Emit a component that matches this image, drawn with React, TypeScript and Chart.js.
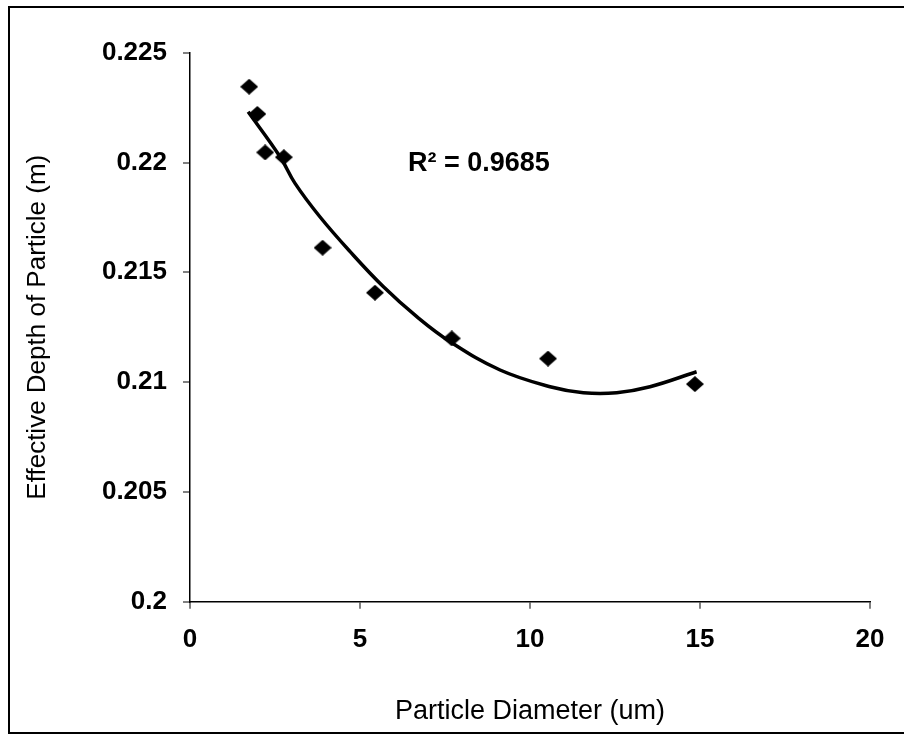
import React, { useEffect, useRef } from "react";
import { Chart, registerables } from "chart.js";

Chart.register(...registerables);

// ---- data ----
const DIAMETER_UM = [1.74, 1.98, 2.21, 2.76, 3.9, 5.44, 7.7, 10.53, 14.85];
const EFFECTIVE_DEPTH_M = [0.22345, 0.22221, 0.22046, 0.22024, 0.21612, 0.21407, 0.21199, 0.21107, 0.20991];

// polynomial trend line as drawn in the reference
const TREND_X = [1.71, 2.65, 3.09, 3.82, 4.71, 5.69, 6.67, 7.65, 9.12, 10.59, 11.57, 12.55, 13.53, 14.9];
const TREND_Y = [0.22231, 0.22026, 0.21905, 0.21753, 0.21594, 0.21434, 0.21298, 0.21184, 0.21055, 0.20979, 0.20952, 0.20952, 0.20979, 0.21047];

const X_TICKS = [0, 5, 10, 15, 20];
const X_TICK_LABELS = ["0", "5", "10", "15", "20"];
const Y_TICKS = [0.2, 0.205, 0.21, 0.215, 0.22, 0.225];
const Y_TICK_LABELS = ["0.2", "0.205", "0.21", "0.215", "0.22", "0.225"];

const X_TITLE = "Particle Diameter (um)";
const Y_TITLE = "Effective Depth of Particle (m)";
const R2_TEXT = "R\u00B2 = 0.9685";
const R2_ANCHOR = [6.41, 0.21995];

const FONT = "'Liberation Sans', Arial, Helvetica, sans-serif";

export default function App() {
  const ref = useRef<HTMLCanvasElement | null>(null);

  useEffect(() => {
    if (!ref.current) return;

    const marker = document.createElement("canvas");
    marker.width = 18;
    marker.height = 16;
    const mc = marker.getContext("2d")!;
    mc.fillStyle = "#000";
    mc.beginPath();
    mc.moveTo(9, 0);
    mc.lineTo(18, 8);
    mc.lineTo(9, 16);
    mc.lineTo(0, 8);
    mc.closePath();
    mc.fill();

    const r2Plugin = {
      id: "r2label",
      afterDatasetsDraw(chart: any) {
        const { ctx, scales } = chart;
        const px = scales.x.getPixelForValue(R2_ANCHOR[0]);
        const py = scales.y.getPixelForValue(R2_ANCHOR[1]);
        ctx.save();
        ctx.font = `bold 27px ${FONT}`;
        ctx.fillStyle = "#000";
        ctx.textAlign = "left";
        ctx.textBaseline = "middle";
        ctx.fillText(R2_TEXT, px, py);
        ctx.restore();
      },
    };

    const chart = new Chart(ref.current, {
      type: "scatter",
      data: {
        datasets: [
          {
            label: "Effective depth",
            data: DIAMETER_UM.map((x, i) => ({ x, y: EFFECTIVE_DEPTH_M[i] })),
            pointStyle: marker as any,
            pointRadius: 9,
            pointHoverRadius: 9,
            backgroundColor: "#000",
            borderColor: "#000",
            showLine: false,
          },
          {
            label: "Poly. trend",
            data: TREND_X.map((x, i) => ({ x, y: TREND_Y[i] })),
            showLine: true,
            borderColor: "#000",
            borderWidth: 3.5,
            pointRadius: 0,
            pointHoverRadius: 0,
            tension: 0.4,
            fill: false,
          },
        ],
      },
      options: {
        animation: false,
        responsive: true,
        maintainAspectRatio: false,
        layout: { padding: { top: 44.7, right: 34, bottom: 0, left: 0 } },
        plugins: {
          legend: { display: false },
          tooltip: { enabled: false },
        },
        scales: {
          x: {
            type: "linear",
            min: 0,
            max: 20,
            afterBuildTicks: (scale: any) => {
              scale.ticks = X_TICKS.map((v) => ({ value: v }));
            },
            afterFit: (scale: any) => {
              scale.height = 130.3;
            },
            ticks: {
              callback: (_v: any, i: number) => X_TICK_LABELS[i],
              color: "#000",
              font: { family: FONT, size: 26, weight: "bold" },
              padding: 15.7,
              maxRotation: 0,
            },
            grid: {
              drawOnChartArea: false,
              drawTicks: true,
              tickLength: 7,
              color: "#808080",
              lineWidth: 2,
            },
            border: { display: true, color: "#000", width: 1.5 },
            title: {
              display: true,
              text: X_TITLE,
              color: "#000",
              font: { family: FONT, size: 27 },
              padding: { top: 0, bottom: 4 },
            },
          },
          y: {
            type: "linear",
            min: 0.2,
            max: 0.225,
            afterBuildTicks: (scale: any) => {
              scale.ticks = Y_TICKS.map((v) => ({ value: v }));
            },
            afterFit: (scale: any) => {
              scale.width = 180;
            },
            ticks: {
              callback: (_v: any, i: number) => Y_TICK_LABELS[i],
              color: "#000",
              font: { family: FONT, size: 26, weight: "bold" },
              padding: 16,
            },
            grid: {
              drawOnChartArea: false,
              drawTicks: true,
              tickLength: 7,
              color: "#808080",
              lineWidth: 2,
            },
            border: { display: true, color: "#000", width: 1.5 },
            title: {
              display: true,
              text: Y_TITLE,
              color: "#000",
              font: { family: FONT, size: 26 },
              padding: { top: 12, bottom: 0 },
            },
          },
        },
      },
      plugins: [r2Plugin],
    } as any);

    return () => chart.destroy();
  }, []);

  return (
    <div
      style={{
        position: "absolute",
        left: 8,
        top: 6,
        width: 896,
        height: 728,
        boxSizing: "border-box",
        borderTop: "2px solid #000",
        borderLeft: "2px solid #000",
        borderBottom: "2px solid #000",
        background: "#fff",
      }}
    >
      <div style={{ position: "relative", width: 894, height: 724 }}>
        <canvas ref={ref} />
      </div>
    </div>
  );
}
